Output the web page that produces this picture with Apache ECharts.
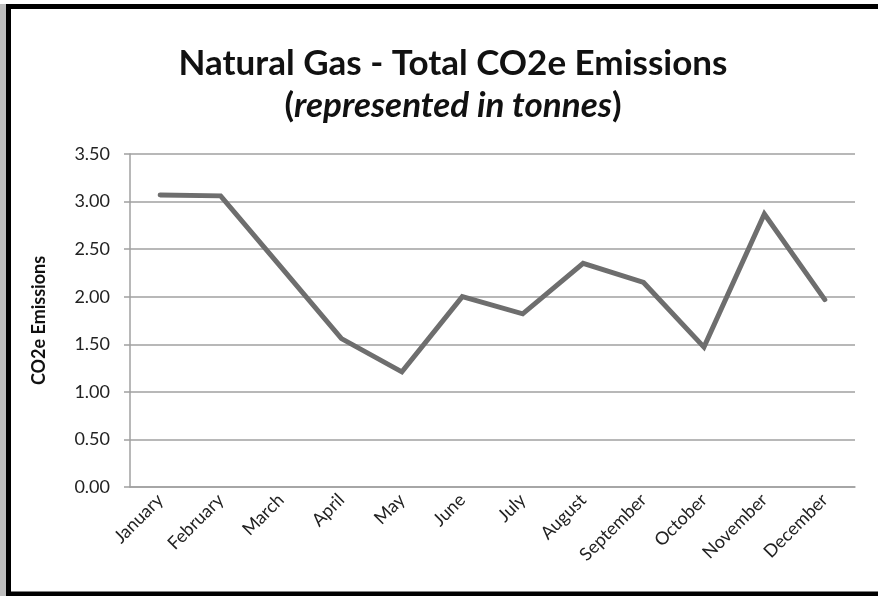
<!DOCTYPE html>
<html>
<head>
<meta charset="utf-8">
<script src="https://cdn.jsdelivr.net/npm/echarts@6/dist/echarts.min.js"></script>
<style>
    html, body { margin: 0; padding: 0; background: #fff; }
    #myChart { width: 878px; height: 596px; }
</style>
</head>
<body>
<div id="myChart"></div>
<script>
    var months = ['January', 'February', 'March', 'April', 'May', 'June',
        'July', 'August', 'September', 'October', 'November', 'December']
    var emissions = [3.07, 3.06, 2.31, 1.56, 1.21, 2.00, 1.82, 2.35, 2.15, 1.47, 2.87, 1.97]
    var yTicks = [0, 0.5, 1, 1.5, 2, 2.5, 3, 3.5]

    var myChart = echarts.init(document.getElementById('myChart'))
    myChart.setOption({
        backgroundColor: '#fff',
        animation: false,
        title: {
            text: 'Natural Gas - Total CO2e Emissions\n{p|(}{i|represented in tonnes}{p|)}',
            // centred on x=448 rather than the page centre
            left: 448,
            textAlign: 'center',
            top: 38,
            textStyle: {
                fontFamily: 'Lato',
                fontWeight: 'bold',
                fontSize: 35,
                color: '#111',
                lineHeight: 42,
                rich: {
                    p: { fontFamily: 'Lato', fontWeight: 'bold', fontSize: 35, color: '#111', lineHeight: 42 },
                    i: { fontFamily: 'Lato', fontWeight: 'bold', fontStyle: 'italic', fontSize: 35, color: '#111', lineHeight: 42 }
                }
            }
        },
        graphic: [
            // shadow + black frame
            { type: 'rect', left: 0, top: 4, shape: { width: 6, height: 600 }, style: { fill: '#bdbdbd' }, silent: true },
            { type: 'rect', shape: { x: 8.5, y: 6.5, width: 900, height: 587.5 }, style: { fill: 'none', stroke: '#000', lineWidth: 5 }, silent: true }
        ],
        grid: { left: 130, right: 23, top: 154, bottom: 109 },
        xAxis: {
            type: 'category',
            data: months,
            boundaryGap: true,
            axisLine: { lineStyle: { color: '#a0a0a0', width: 1.5 } },
            axisTick: { show: false },
            axisLabel: {
                rotate: 45,
                margin: 10,
                fontFamily: 'Lato',
                fontSize: 18,
                color: '#222'
            }
        },
        yAxis: {
            type: 'value',
            min: yTicks[0],
            max: yTicks[yTicks.length - 1],
            interval: 0.5,
            name: 'CO2e Emissions',
            nameLocation: 'middle',
            nameGap: 82,
            nameTextStyle: { fontFamily: 'Lato', fontWeight: 'bold', fontSize: 18, color: '#111' },
            axisLine: { show: true, lineStyle: { color: '#a0a0a0', width: 1.5 } },
            axisTick: { show: true, length: 6, lineStyle: { color: '#a0a0a0', width: 1.5 } },
            splitLine: { lineStyle: { color: '#a0a0a0', width: 1.5 } },
            axisLabel: {
                margin: 20,
                fontFamily: 'Lato',
                fontSize: 18,
                color: '#222',
                formatter: function (v) { return v.toFixed(2) }
            }
        },
        series: [{
            type: 'line',
            data: emissions,
            showSymbol: false,
            symbol: 'none',
            lineStyle: { color: '#6e6e6e', width: 5, cap: 'round', join: 'miter' }
        }]
    })
</script>
</body>
</html>
